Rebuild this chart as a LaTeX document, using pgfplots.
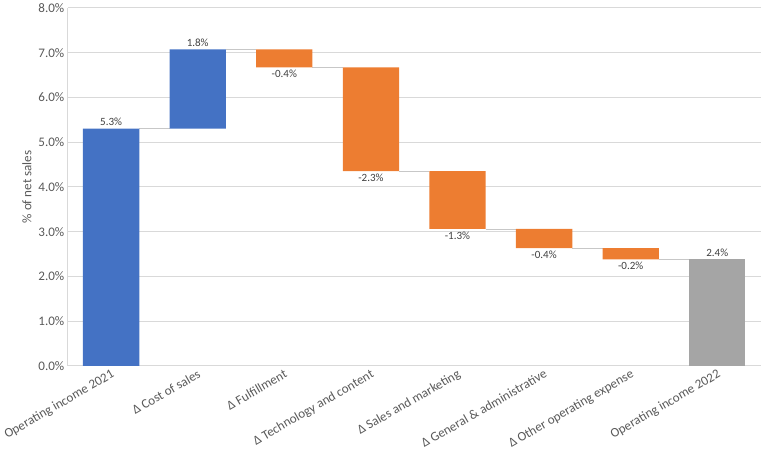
\documentclass[border=0pt]{standalone}
\usepackage{pgfplots}
\pgfplotsset{compat=1.18}
\usepackage{pgfplotstable}
\usepackage{fontspec}
\setmainfont{Carlito}

\definecolor{cblue}{HTML}{4472C4}
\definecolor{corange}{HTML}{ED7D31}
\definecolor{cgray}{HTML}{A5A5A5}
\definecolor{gridc}{HTML}{D9D9D9}
\definecolor{txt}{HTML}{595959}
\definecolor{lab}{HTML}{404040}

% waterfall: invisible base + visible segment
\pgfplotstableread{
x base blue orange gray
0 0    5.30 0    0
1 5.30 1.77 0    0
2 6.67 0    0.40 0
3 4.35 0    2.32 0
4 3.06 0    1.29 0
5 2.63 0    0.43 0
6 2.38 0    0.25 0
7 0    0    0    2.38
}\wf

% data labels: above the bar end (up) or below it (down)
\pgfplotstableread{
x y lab
0 5.30 {5.3\%}
1 7.07 {1.8\%}
7 2.38 {2.4\%}
}\labup
\pgfplotstableread{
x y lab
2 6.67 {-0.4\%}
3 4.35 {-2.3\%}
4 3.06 {-1.3\%}
5 2.63 {-0.4\%}
6 2.38 {-0.2\%}
}\labdown

% connector lines between bars
\pgfplotstableread{
x y
0.325 5.30
0.675 5.30
nan nan
1.325 7.07
1.675 7.07
nan nan
2.325 6.67
2.675 6.67
nan nan
3.325 4.35
3.675 4.35
nan nan
4.325 3.06
4.675 3.06
nan nan
5.325 2.63
5.675 2.63
nan nan
6.325 2.38
6.675 2.38
}\conn

\pgfplotsset{
  wfbase/.style={
    scale only axis, width=687bp, height=355bp,
    xmin=-0.5, xmax=7.5, ymin=0, ymax=8,
  },
}

\begin{document}
\begin{tikzpicture}
\begin{axis}[
  wfbase,
  axis x line*=bottom, axis y line*=left,
  axis line style={gridc, line width=0.8pt},
  ymajorgrids, grid style={gridc, line width=0.8pt},
  major tick length=0pt,
  ytick={0,1,...,8},
  yticklabel={\pgfmathprintnumber[fixed,fixed zerofill,precision=1]{\tick}\%},
  /pgf/number format/assume math mode=true,
  xtick={0,...,7},
  xticklabels={Operating income 2021, Δ Cost of sales, Δ Fulfillment,
    Δ Technology and content, Δ Sales and marketing,
    Δ General \& administrative, Δ Other operating expense,
    Operating income 2022},
  x tick label style={rotate=30, anchor=north east, inner sep=2pt},
  tick label style={font=\fontsize{13}{15}\selectfont, text=txt},
  ylabel={\% of net sales},
  ylabel style={font=\fontsize{13}{15}\selectfont, text=txt},
  unbounded coords=jump,
  nodes near coords style={font=\fontsize{11}{13}\selectfont, text=lab, inner sep=2.5pt},
]
\addplot[gridc!80!gray, line width=0.8pt] table[x=x, y=y] {\conn};
\addplot[draw=none, point meta=explicit symbolic, nodes near coords,
  nodes near coords style={anchor=south}]
  table[x=x, y=y, meta=lab] {\labup};
\addplot[draw=none, point meta=explicit symbolic, nodes near coords,
  nodes near coords style={anchor=north}]
  table[x=x, y=y, meta=lab] {\labdown};
\end{axis}
\begin{axis}[
  wfbase,
  hide axis,
  ybar stacked, bar width=0.65,
]
\addplot[draw=none, fill=none] table[x=x, y=base] {\wf};
\addplot[draw=none, fill=cblue] table[x=x, y=blue] {\wf};
\addplot[draw=none, fill=corange] table[x=x, y=orange] {\wf};
\addplot[draw=none, fill=cgray] table[x=x, y=gray] {\wf};
\end{axis}
\end{tikzpicture}
\end{document}
